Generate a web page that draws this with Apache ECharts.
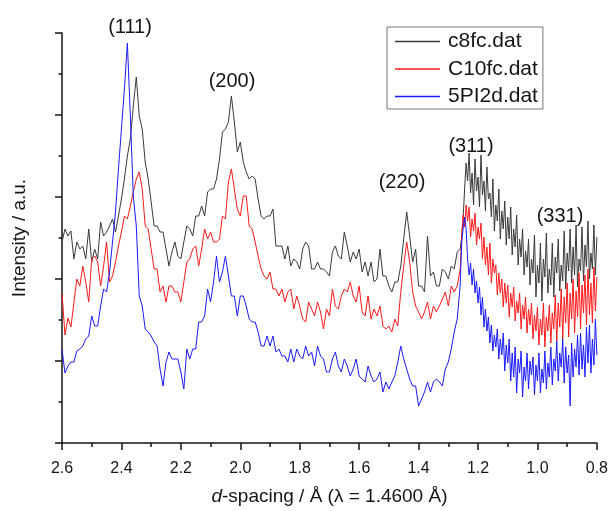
<!DOCTYPE html>
<html>
<head>
<meta charset="utf-8">
<script src="https://cdn.jsdelivr.net/npm/echarts@6.0.0/dist/echarts.min.js"></script>
<style>
html,body{margin:0;padding:0;background:#fff;}
#chart{width:611px;height:511px;}
</style>
</head>
<body>
<div id="chart"></div>
<script>
// d-spacing sampling positions (Å): coarse part, then dense part
const dSpacing = [
2.60,2.59,2.58,2.57,2.56,2.55,2.54,2.53,2.52,2.51,
2.50,2.49,2.48,2.47,2.46,2.45,2.44,2.43,2.42,2.41,
2.40,2.39,2.38,2.37,2.36,2.35,2.34,2.33,2.32,2.31,
2.30,2.29,2.28,2.27,2.26,2.25,2.24,2.23,2.22,2.21,
2.20,2.19,2.18,2.17,2.16,2.15,2.14,2.13,2.12,2.11,
2.10,2.09,2.08,2.07,2.06,2.05,2.04,2.03,2.02,2.01,
2.00,1.99,1.98,1.97,1.96,1.95,1.94,1.93,1.92,1.91,
1.90,1.89,1.88,1.87,1.86,1.85,1.84,1.83,1.82,1.81,
1.80,1.79,1.78,1.77,1.76,1.75,1.74,1.73,1.72,1.71,
1.70,1.69,1.68,1.67,1.66,1.65,1.64,1.63,1.62,1.61,
1.60,1.59,1.58,1.57,1.56,1.55,1.54,1.53,1.52,1.51,
1.50,1.49,1.48,1.47,1.46,1.45,1.44,1.43,1.42,1.41,
1.40,1.39,1.38,1.37,1.36,1.35,1.34,1.33,1.32,1.31,
1.30,1.29,1.28,1.27,1.26,
1.255,1.250,1.245,1.240,1.235,1.230,1.225,1.220,1.215,1.210,
1.205,1.200,1.195,1.190,1.185,1.180,1.175,1.170,1.165,1.160,
1.155,1.150,1.145,1.140,1.135,1.130,1.125,1.120,1.115,1.110,
1.105,1.100,1.095,1.090,1.085,1.080,1.075,1.070,1.065,1.060,
1.055,1.050,1.045,1.040,1.035,1.030,1.025,1.020,1.015,1.010,
1.005,1.000,0.995,0.990,0.985,0.980,0.975,0.970,0.965,0.960,
0.955,0.950,0.945,0.940,0.935,0.930,0.925,0.920,0.915,0.910,
0.905,0.900,0.895,0.890,0.885,0.880,0.875,0.870,0.865,0.860,
0.855,0.850,0.845,0.840,0.835,0.830,0.825,0.820,0.815,0.810,
0.805,0.800
];

const c8fc = [
201,214,207,212,184,201,194,197,184,214,
181,194,184,221,207,211,217,224,211,227,
244,264,287,304,337,366,327,314,281,264,
241,217,217,211,211,194,177,191,201,187,
184,201,217,214,207,227,227,237,227,251,
254,254,264,284,311,314,321,347,321,291,
301,281,271,264,267,264,244,227,224,227,
227,234,197,197,197,184,197,177,184,181,
174,194,201,197,174,174,181,174,174,171,
167,191,197,187,184,211,197,181,191,184,
194,171,181,167,181,161,164,194,167,167,
157,151,161,161,177,204,231,207,181,194,
157,157,151,207,167,171,157,157,174,171,
164,177,174,191,194,
205,225,255,280,262, 290,250,270,238,284,
252,266,236,288,248, 262,232,276,244,250,
226,264,212,238,222, 254,204,232,214,242,
198,226,204,236,188, 214,196,228,178,204,
186,214,168,192,176, 204,158,184,170,208,
146,178,160,200,142, 184,166,210,150,174,
158,200,146,186,170, 204,152,178,162,212,
154,190,172,214,160, 196,168,218,156,184,
172,216,162,198,176, 222,164,190,174,218,
168,206
];

const C10fc = [
150,108,125,116,140,164,157,177,161,141,
184,187,181,157,177,201,161,167,181,197,
211,227,224,237,251,264,271,254,217,214,
194,174,174,151,157,141,157,157,151,151,
141,161,181,184,194,197,177,194,214,204,
211,201,201,204,227,224,261,274,254,234,
227,247,247,217,214,201,187,174,167,164,
171,154,154,147,154,141,151,154,134,147,
137,124,121,141,134,127,141,131,114,134,
127,154,137,134,147,154,151,161,147,141,
157,131,127,147,124,134,127,137,117,114,
117,111,124,117,151,177,201,181,151,137,
131,124,131,141,124,137,131,137,144,151,
137,157,151,157,174,
208,228,216,238,222, 236,206,224,212,230,
198,216,204,220,184, 206,178,196,168,200,
160,184,170,178,148, 170,150,164,136,160,
140,158,126,150,136, 156,122,142,130,150,
114,138,124,146,110, 134,118,140,104,128,
112,136,98,124,108, 140,96,126,112,138,
100,130,114,148,102, 140,116,154,104,146,
120,160,106,150,124, 164,110,152,126,170,
114,158,130,168,118, 174,128,160,120,176,
132,166
];

const PI2d = [
94,70,77,81,81,92,94,97,104,107,
127,117,117,137,154,151,171,201,231,274,
314,354,400,327,247,217,147,137,114,111,
107,101,97,74,57,81,91,84,84,84,
71,54,94,84,94,94,121,121,127,154,
141,161,187,161,171,187,167,147,147,127,
147,147,137,124,121,121,111,97,97,107,
97,107,91,94,87,87,81,94,81,94,
87,84,97,87,91,77,97,87,84,71,
71,84,91,77,71,84,77,67,74,84,
67,64,61,77,67,61,64,71,51,61,
54,61,67,81,97,84,74,64,57,57,
37,44,51,61,51,61,64,61,57,74,
81,94,111,124,158,
200,215,226,214,184, 168,180,158,174,150,
162,140,156,128,146, 116,134,112,126,100,
118,92,108,96,114, 84,104,88,110,72,
98,80,104,62,90, 66,96,50,84,70,
92,46,76,62,90, 54,82,68,86,48,
78,62,90,50,74, 60,92,54,80,66,
96,58,84,72,102, 62,90,76,104,60,
96,70,88,37,100, 66,94,76,108,68,
110,74,98,66,116, 80,118,70,104,78,
124,88
];

const seriesNames = ['c8fc.dat', 'C10fc.dat', '5PI2d.dat'];
const seriesValues = [c8fc, C10fc, PI2d];
const seriesColors = ['#3a3a3a', '#ff1a1a', '#1a1aff'];

const peakLabels = ['(111)', '(200)', '(220)', '(311)', '(331)'];
const peakLabelPos = [[130, 27], [232, 81], [402, 182], [471, 146], [560, 216]];

const FONT = 'Liberation Sans, Arial, sans-serif';

const chart = echarts.init(document.getElementById('chart'), null, {renderer: 'canvas'});

const series = seriesNames.map((name, i) => ({
  name: name,
  type: 'line',
  data: dSpacing.map((d, j) => [d, seriesValues[i][j]]),
  showSymbol: false,
  symbol: 'none',
  color: seriesColors[i],
  lineStyle: {width: 1, color: seriesColors[i]},
  z: 2 + i,
  animation: false
}));

const axisColor = '#151515';

const option = {
  animation: false,
  backgroundColor: '#ffffff',
  textStyle: {fontFamily: FONT},
  grid: {left: 62, right: 14, top: 33, bottom: 67, containLabel: false},
  xAxis: {
    type: 'value',
    inverse: true,
    min: 0.8,
    max: 2.6,
    interval: 0.2,
    axisLine: {onZero: false, lineStyle: {color: axisColor, width: 1.5}},
    axisTick: {show: true, length: 7, lineStyle: {color: axisColor, width: 1.5}},
    minorTick: {show: true, splitNumber: 2, length: 4, lineStyle: {color: axisColor, width: 1.5}},
    splitLine: {show: false},
    minorSplitLine: {show: false},
    axisLabel: {color: '#151515', fontSize: 16, margin: 18, fontFamily: FONT,
      formatter: v => v.toFixed(1)},
    name: '{i|d}-spacing / Å (λ = 1.4600 Å)',
    nameLocation: 'middle',
    nameGap: 44,
    nameTextStyle: {fontSize: 19, color: '#151515', fontFamily: FONT,
      rich: {i: {fontStyle: 'italic', fontSize: 19, color: '#151515', fontFamily: FONT}}}
  },
  yAxis: {
    type: 'value',
    min: 0,
    max: 410,
    interval: 82,
    axisLine: {show: true, onZero: false, lineStyle: {color: axisColor, width: 1.5}},
    axisTick: {show: true, length: 7, lineStyle: {color: axisColor, width: 1.5}},
    minorTick: {show: true, splitNumber: 2, length: 3.5, lineStyle: {color: axisColor, width: 1.5}},
    splitLine: {show: false},
    minorSplitLine: {show: false},
    axisLabel: {show: false},
    name: 'Intensity / a.u.',
    nameLocation: 'middle',
    nameGap: 33,
    nameTextStyle: {fontSize: 19, color: '#151515', fontFamily: FONT}
  },
  legend: {
    orient: 'vertical',
    left: 387,
    top: 27,
    padding: [4, 5, 2, 8],
    itemGap: 6.5,
    itemWidth: 45,
    itemHeight: 1.5,
    icon: 'rect',
    borderColor: '#777',
    borderWidth: 1,
    backgroundColor: '#fff',
    textStyle: {fontSize: 21, color: '#151515', fontFamily: FONT, lineHeight: 21, padding: [0, 0, 0, 3]},
    data: seriesNames
  },
  graphic: peakLabels.map((t, i) => ({
    type: 'text',
    silent: true,
    style: {
      text: t,
      x: peakLabelPos[i][0],
      y: peakLabelPos[i][1],
      align: 'center',
      verticalAlign: 'middle',
      font: '20px ' + FONT,
      fill: '#151515'
    }
  })),
  series: series
};

chart.setOption(option);
</script>
</body>
</html>
